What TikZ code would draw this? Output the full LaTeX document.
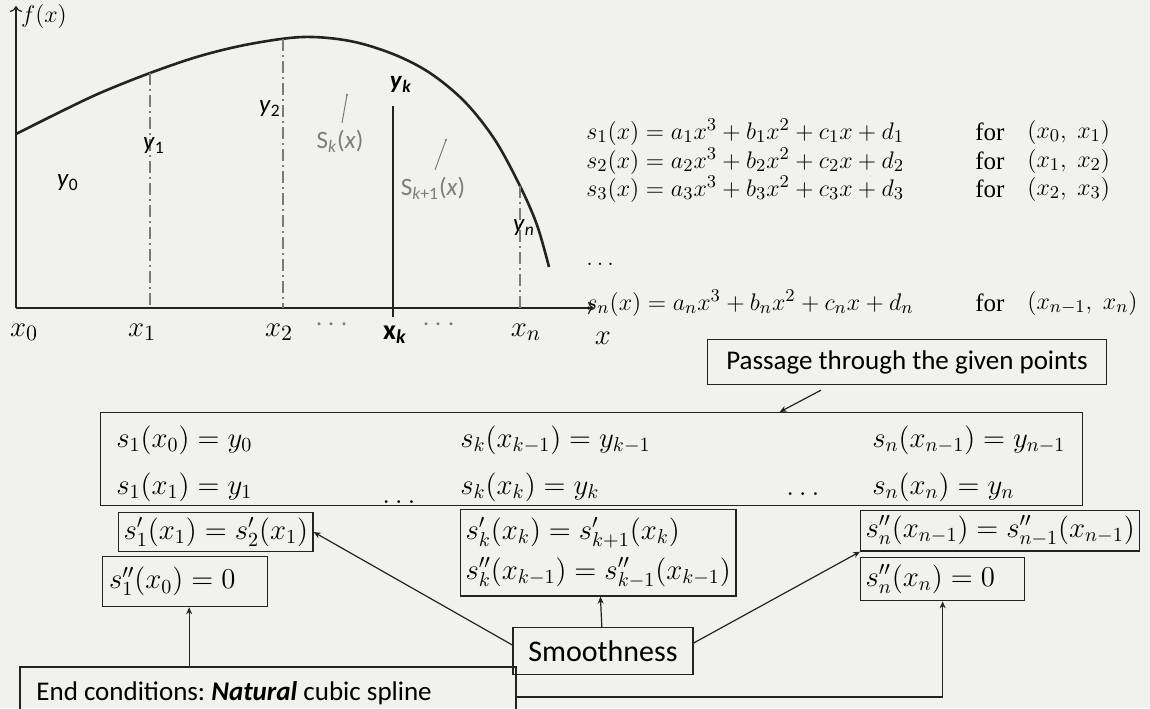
\documentclass[tikz,border=0pt]{standalone}
\usepackage{fontspec}
\setmainfont{Liberation Serif}
\setsansfont{Carlito}
\usetikzlibrary{arrows.meta, positioning, calc}
\definecolor{Paper}{RGB}{241,241,238}
\definecolor{Ink}{RGB}{35,35,35}
\definecolor{LabelGray}{RGB}{125,125,125}
\frenchspacing

\begin{document}
\begin{tikzpicture}[x=0.5pt, y=-0.5pt,
  ptbox/.style={draw=Ink, line width=0.65pt},
  eqbox/.style={draw=Ink, line width=0.65pt, inner xsep=2.5pt, inner ysep=2.5pt,
                font=\fontsize{14.5}{17}\selectfont},
  tbox/.style={draw=Ink, line width=0.65pt, font=\sffamily\fontsize{13.5}{16}\selectfont},
  eq/.style={anchor=west, inner sep=0pt},
  topeq/.style={anchor=west, inner sep=0pt, font=\fontsize{12.5}{15}\selectfont},
  arr/.style={-{Stealth[length=3.5pt, width=3pt]}, Ink, line width=0.6pt},
  guide/.style={Ink!60, line width=0.6pt, dash pattern=on 6pt off 2pt on 1pt off 2pt},
  lbl/.style={font=\sffamily\fontsize{12.5}{14}\selectfont},
  xlbl/.style={font=\fontsize{15}{17}\selectfont},
]
\fill[Paper] (0,0) rectangle (1150,708);
\useasboundingbox (0,0) rectangle (1150,708);

% graph
\coordinate (O) at (16,308);
\draw[Ink, line width=0.6pt, -{To[length=3pt]}] (O) -- (16,6);
\draw[Ink, line width=0.6pt, -{To[length=3pt]}] (O) -- (594,308);
\draw[Ink, line width=1.3pt] plot[smooth, tension=0.55] coordinates
  {(16,134) (60,112) (100,93) (150,73) (200,56) (250,44) (303,37) (350,41)
   (393,54) (430,73) (465,102) (495,140) (520,186) (537,225) (549,267)};
\draw[guide] (150,73) -- (150,308);
\draw[guide] (283,39) -- (283,308);
\draw[guide] (520,186) -- (520,308);
\draw[Ink, line width=0.8pt] (393,106) -- (393,317);

\node[font=\fontsize{13}{15}\selectfont] (fx) at (44,16) {$f(x)$};
\node[lbl] (y0) at (68,183) {\textit{y}\textsubscript{0}};
\node[lbl] (y1) at (154,146) {\textit{y}\textsubscript{1}};
\node[lbl] (y2) at (270,109) {\textit{y}\textsubscript{2}};
\node[lbl, font=\sffamily\bfseries\fontsize{12.5}{14}\selectfont] (yk) at (401,84) {\textit{y}\textsubscript{\textit{k}}};
\node[lbl] (yn) at (524,228) {\textit{y}\textsubscript{\textit{n}}};
\node[lbl, LabelGray] (sk) at (340,141) {S\textsubscript{\textit{k}}(\textit{x})};
\node[lbl, LabelGray] (sk1) at (433,188) {S\textsubscript{\textit{k}+1}(\textit{x})};
\draw[LabelGray, line width=0.5pt] ([xshift=1pt]sk.north) -- ++(5,-28) coordinate (skp);
\fill[LabelGray] (skp) circle (1.3);
\draw[LabelGray, line width=0.5pt] ([xshift=1pt]sk1.north) -- ++(11,-30) coordinate (sk1p);
\fill[LabelGray] (sk1p) circle (1.3);

\node[xlbl] (x0) at (24,332) {$x_0$};
\node[xlbl] (x1) at (142,332) {$x_1$};
\node[xlbl] (x2) at (279,332) {$x_2$};
\node[xlbl, LabelGray] (d1) at (332,325) {$\cdots$};
\node[lbl, font=\sffamily\bfseries\fontsize{14}{16}\selectfont] (xk) at (395,335) {x\textsubscript{\textit{k}}};
\node[xlbl, LabelGray] (d2) at (439,325) {$\cdots$};
\node[xlbl] (xn) at (526,332) {$x_n$};
\node[xlbl] (xx) at (603,338) {$x$};

% piecewise cubics
\foreach \i/\p/\y in {1/0/132, 2/1/161, 3/2/189} {
  \node[topeq] (s\i) at (586,\y) {$s_\i(x)=a_\i x^3+b_\i x^2+c_\i x+d_\i$};
  \node[topeq] (f\i) at (975,\y) {for};
  \node[topeq] (r\i) at (1027,\y) {$\bigl(x_\p,\;x_\i\bigr)$};
}
\node[topeq] (sdots) at (586,264) {$\ldots$};
\node[topeq] (sn) at (586,303) {$s_n(x)=a_nx^3+b_nx^2+c_nx+d_n$};
\node[topeq] (fn) at (975,303) {for};
\node[topeq] (rn) at (1027,303) {$\bigl(x_{n-1},\;x_n\bigr)$};

% conditions
\node[tbox, minimum width=199.5pt, minimum height=22.5pt] (pass) at (907,362) {Passage through the given points};
\node[ptbox, minimum width=491pt, minimum height=46.5pt, anchor=north west] (pts) at (100,412) {};
\begin{scope}[font=\fontsize{14}{16}\selectfont]
\node[eq] (c11) at (116,440) {$s_1(x_0)=y_0$};
\node[eq] (c12) at (116,487) {$s_1(x_1)=y_1$};
\node[eq] (c21) at (460,440) {$s_k(x_{k-1})=y_{k-1}$};
\node[eq] (c22) at (460,487) {$s_k(x_k)=y_k$};
\node[eq] (c31) at (872,440) {$s_n(x_{n-1})=y_{n-1}$};
\node[eq] (c32) at (872,487) {$s_n(x_n)=y_n$};
\node[eq] (dl) at (382,502) {$\ldots$};
\node[eq] (dr) at (786,494) {$\ldots$};
\end{scope}

\node[eqbox, anchor=north west] (s1p) at (118,512) {$s_1'(x_1)=s_2'(x_1)$};
\node[eqbox, anchor=north west, minimum width=82.5pt, minimum height=25pt,
      align=left, text width=76pt] (s1pp) at (102,556) {$s_1''(x_0)=0$};
\node[eqbox, anchor=north west, align=left, inner ysep=4pt] (mid) at (460,509)
  {$s_k'(x_k)=s_{k+1}'(x_k)$\\[3pt] $s_k''(x_{k-1})=s_{k-1}''(x_{k-1})$};
\node[eqbox, anchor=north west] (snp) at (860,510) {$s_n''(x_{n-1})=s_{n-1}''(x_{n-1})$};
\node[eqbox, anchor=north west, minimum height=21.5pt, text width=77pt,
      align=left] (snpp) at (860,557) {$s_n''(x_n)=0$};

\node[tbox, minimum width=90pt, minimum height=23.5pt, font=\sffamily\fontsize{15}{17}\selectfont]
  (smooth) at (603,651) {Smoothness};
% end conditions box runs off the bottom edge
\node[anchor=west, inner sep=0pt, font=\sffamily\fontsize{13.5}{16}\selectfont]
  (endc) at (36,693) {End conditions: \textbf{\textit{Natural}} cubic spline};
\coordinate (endnw) at (20,667);
\coordinate (endne) at (516,667);
\draw[Ink, line width=0.65pt] ([yshift=-30pt]endnw) -- (endnw) -- (endne) -- ([yshift=-30pt]endne);

\draw[arr] ([shift={(-86,5)}]pass.south) -- ([shift={(188,0)}]pts.north);
\draw[arr] ([yshift=3pt]smooth.west) -- (s1p.east);
\draw[arr] (smooth) -- (mid);
\draw[arr] ([yshift=4pt]smooth.east) -- (snp.south west);
\draw[arr] ([xshift=2pt]s1pp.south |- endnw) -- ([xshift=2pt]s1pp.south);
\draw[arr] (endne |- 0,697) -| (snpp.south);
\end{tikzpicture}
\end{document}
